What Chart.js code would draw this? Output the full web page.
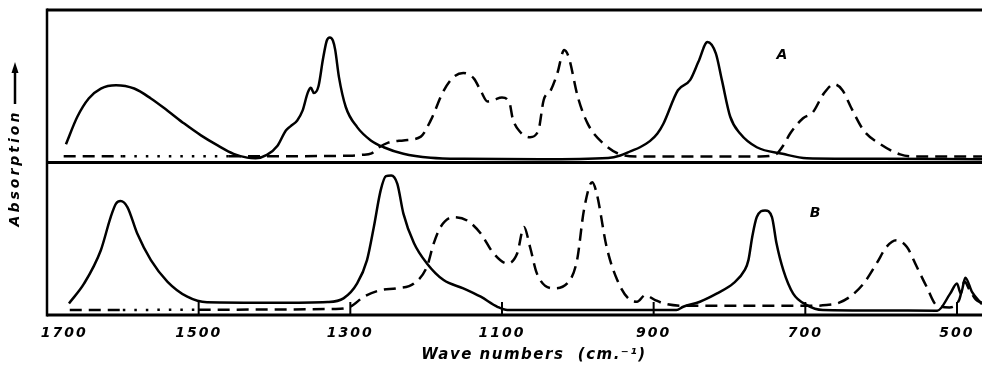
<!DOCTYPE html>
<html>
<head>
<meta charset="utf-8">
<script src="https://cdn.jsdelivr.net/npm/chart.js@4.4.0/dist/chart.umd.min.js"></script>
<style>
  html, body { margin: 0; padding: 0; background: #fff; }
  canvas { display: block; }
</style>
</head>
<body>
<canvas id="spectrum" width="982" height="369"></canvas>
<script>
// wave numbers (cm-1), axis runs from 1700 down to ~467
const xTicks = [1700, 1500, 1300, 1100, 900, 700, 500];
const xMin = 467;
const xMax = 1700;

// Spectrum A, solid curve (absorption as fraction of the panel height)
const aSolidWave = [1675,1660,1645,1629,1609,1585,1563,1541,1519,1497,1475,1454,1436,1425,1410,1396,1385,1379,1370,1363,1356,1352,1348,1342,1336,1331,1327,1323,1320,1315,1306,1291,1273,1256,1230,1194,1150,1050,960,944,930,918,905,895,887,868,852,841,829,818,810,799,786,764,730,698,600,467];
const aSolidAbs  = [0.12,0.30,0.42,0.485,0.507,0.485,0.42,0.34,0.255,0.178,0.112,0.057,0.032,0.028,0.05,0.11,0.21,0.237,0.276,0.34,0.46,0.49,0.455,0.50,0.68,0.80,0.82,0.80,0.74,0.56,0.364,0.232,0.145,0.10,0.057,0.031,0.024,0.022,0.03,0.046,0.075,0.10,0.14,0.19,0.256,0.474,0.54,0.66,0.79,0.715,0.54,0.30,0.19,0.10,0.057,0.028,0.024,0.022];

// Spectrum A, dashed curve
const aDashWave = [1678,1600,1460,1300,1285,1272,1262,1250,1230,1207,1194,1177,1164,1151,1137,1128,1119,1111,1100,1090,1086,1076,1063,1052,1045,1036,1027,1018,1012,1000,987,966,944,920,760,745,737,728,720,703,690,676,662,651,640,623,602,575,560,467];
const aDashAbs  = [0.041,0.041,0.041,0.044,0.05,0.06,0.10,0.13,0.145,0.17,0.276,0.47,0.56,0.587,0.55,0.47,0.40,0.41,0.426,0.39,0.29,0.20,0.166,0.21,0.41,0.47,0.585,0.737,0.69,0.43,0.255,0.123,0.053,0.04,0.04,0.045,0.06,0.12,0.19,0.29,0.33,0.45,0.513,0.474,0.364,0.21,0.123,0.053,0.04,0.04];

// Spectrum B, solid curve
const bSolidWave = [1671,1651,1629,1616,1609,1603,1594,1581,1563,1541,1515,1489,1400,1330,1309,1291,1278,1269,1260,1253,1246,1238,1230,1216,1199,1177,1151,1128,1106,1093,1000,870,861,839,817,795,780,775,770,764,753,744,738,729,716,698,677,600,526,509,500,495,489,480,467];
const bSolidAbs  = [0.076,0.207,0.425,0.642,0.73,0.747,0.708,0.534,0.36,0.218,0.12,0.083,0.08,0.085,0.109,0.207,0.36,0.577,0.817,0.91,0.915,0.86,0.665,0.47,0.338,0.229,0.175,0.12,0.054,0.033,0.033,0.033,0.054,0.087,0.14,0.207,0.294,0.36,0.512,0.642,0.686,0.642,0.47,0.294,0.14,0.065,0.033,0.03,0.028,0.14,0.207,0.14,0.245,0.15,0.07];

// Spectrum B, dashed curve
const bDashWave = [1670,1600,1500,1320,1300,1282,1260,1238,1216,1199,1190,1181,1164,1146,1128,1111,1093,1080,1071,1063,1054,1032,1014,1001,992,981,975,962,948,931,922,911,898,887,861,685,672,658,641,623,606,593,580,566,553,540,527,510,497,490,484,475,467];
const bDashAbs  = [0.033,0.033,0.035,0.04,0.055,0.12,0.163,0.175,0.207,0.316,0.47,0.577,0.642,0.62,0.534,0.403,0.338,0.403,0.577,0.446,0.273,0.175,0.207,0.36,0.686,0.871,0.795,0.446,0.229,0.098,0.087,0.13,0.098,0.076,0.061,0.061,0.065,0.076,0.12,0.207,0.338,0.446,0.49,0.446,0.316,0.185,0.065,0.05,0.10,0.22,0.17,0.10,0.08];

const ink = '#000';
const dash = [12, 7];
const dots = [2.5, 9];

function pts(wave, abs) {
  return wave.map((w, i) => ({ x: w, y: abs[i] }));
}

// the dashed baselines turn into dots over a stretch on the left
function dotted(from, to) {
  return ctx => (ctx.p0.parsed.x <= from && ctx.p0.parsed.x > to) ? dots : undefined;
}

function line(ctx, x1, y1, x2, y2) {
  ctx.beginPath();
  ctx.moveTo(x1, y1);
  ctx.lineTo(x2, y2);
  ctx.stroke();
}

const framePlugin = {
  id: 'frame',
  beforeDraw(chart) {
    chart.ctx.letterSpacing = '2px';
  },
  afterDraw(chart) {
    const { ctx, chartArea: area, scales: { x, yA, yB } } = chart;
    ctx.save();
    ctx.strokeStyle = ink;
    ctx.fillStyle = ink;

    // panel frame
    ctx.lineWidth = 3;
    line(ctx, area.left, yA.top, area.right, yA.top);
    line(ctx, area.left, yA.bottom, area.right, yA.bottom);
    line(ctx, area.left, yB.bottom, area.right, yB.bottom);
    ctx.lineWidth = 2.5;
    line(ctx, area.left, yA.top - 1.5, area.left, yB.bottom + 1.5);

    // tick marks pointing up into panel B
    ctx.lineWidth = 2;
    xTicks.slice(1).forEach(v => {
      const px = x.getPixelForValue(v);
      line(ctx, px, yB.bottom, px, yB.bottom - 13);
    });

    // panel letters
    ctx.font = 'italic bold 14px "DejaVu Sans"';
    ctx.textAlign = 'center';
    ctx.textBaseline = 'middle';
    ctx.letterSpacing = '0px';
    ctx.fillText('A', 782, 55);
    ctx.fillText('B', 815, 213);

    // x title
    ctx.font = 'italic bold 15px "DejaVu Sans"';
    ctx.letterSpacing = '1.5px';
    ctx.fillText('Wave numbers  (cm.\u207B\u00B9)', 534, 355);

    // y title with arrow
    ctx.font = 'italic bold 14px "DejaVu Sans"';
    ctx.letterSpacing = '3px';
    ctx.save();
    ctx.translate(15, 168);
    ctx.rotate(-Math.PI / 2);
    ctx.fillText('Absorption', 0, 0);
    ctx.restore();
    ctx.lineWidth = 2.5;
    line(ctx, 15, 104, 15, 70);
    ctx.beginPath();
    ctx.moveTo(15, 62);
    ctx.lineTo(11.5, 73);
    ctx.lineTo(18.5, 73);
    ctx.closePath();
    ctx.fill();

    ctx.restore();
  }
};

const common = {
  borderColor: ink,
  borderWidth: 2.5,
  pointRadius: 0,
  fill: false,
  cubicInterpolationMode: 'monotone'
};

new Chart(document.getElementById('spectrum'), {
  type: 'line',
  data: {
    datasets: [
      { ...common, label: 'A solid', data: pts(aSolidWave, aSolidAbs), yAxisID: 'yA' },
      { ...common, label: 'A dashed', data: pts(aDashWave, aDashAbs), yAxisID: 'yA',
        borderDash: dash, segment: { borderDash: dotted(1600, 1460) } },
      { ...common, label: 'B solid', data: pts(bSolidWave, bSolidAbs), yAxisID: 'yB' },
      { ...common, label: 'B dashed', data: pts(bDashWave, bDashAbs), yAxisID: 'yB',
        borderDash: dash, segment: { borderDash: dotted(1600, 1500) } }
    ]
  },
  options: {
    responsive: false,
    animation: false,
    layout: { padding: { left: 47, top: 10, right: 0, bottom: 0 } },
    plugins: { legend: { display: false }, tooltip: { enabled: false } },
    scales: {
      x: {
        type: 'linear',
        reverse: true,
        min: xMin,
        max: xMax,
        afterBuildTicks: s => { s.ticks = xTicks.map(v => ({ value: v })); },
        afterFit: s => { s.height = 54; },
        grid: { display: false },
        border: { display: false },
        ticks: {
          color: ink,
          padding: 2,
          maxRotation: 0,
          autoSkip: false,
          font: { family: '"DejaVu Sans"', size: 14, style: 'italic', weight: 'bold' },
          callback: v => v === 1700 ? '     1700' : String(v)
        }
      },
      yB: { type: 'linear', min: 0, max: 1, stack: 'panels', stackWeight: 1, display: false },
      yA: { type: 'linear', min: 0, max: 1, stack: 'panels', stackWeight: 1, display: false }
    }
  },
  plugins: [framePlugin]
});
</script>
</body>
</html>
